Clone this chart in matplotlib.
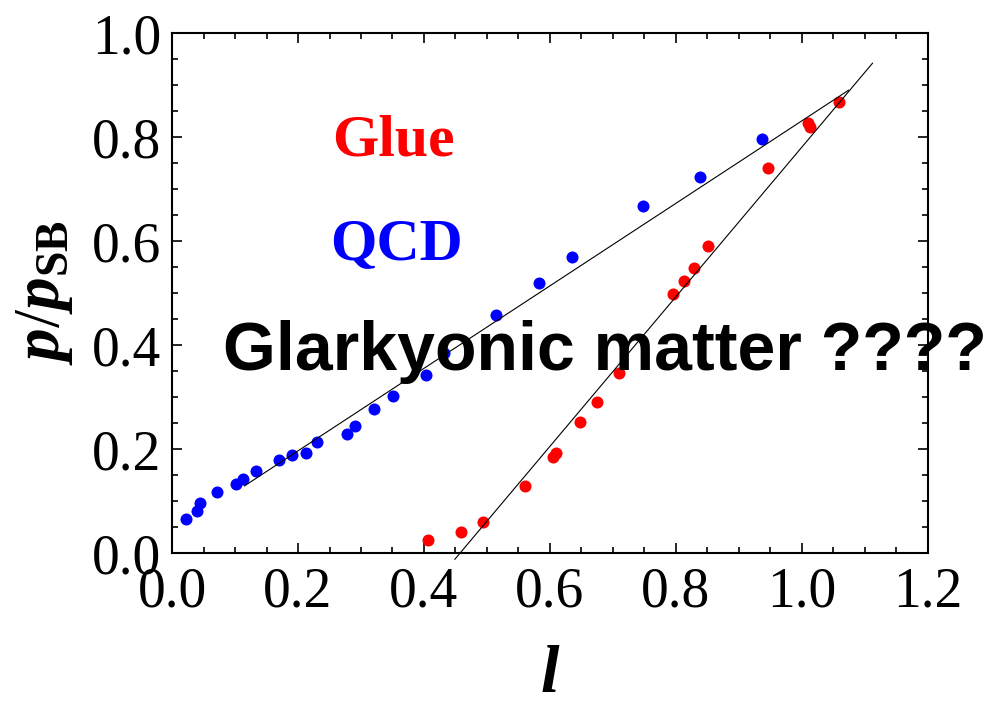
import matplotlib
matplotlib.use("Agg")
import matplotlib.pyplot as plt
from matplotlib.ticker import MultipleLocator

plt.rcParams['mathtext.fontset'] = 'custom'
plt.rcParams['mathtext.rm'] = 'Liberation Serif'
plt.rcParams['mathtext.it'] = 'Liberation Serif:italic:bold'
plt.rcParams['mathtext.bf'] = 'Liberation Serif:bold'

# QCD points (blue)
qcd_l = [0.022, 0.040, 0.044, 0.071, 0.101, 0.113, 0.134, 0.170, 0.191, 0.212, 0.230, 0.277,
         0.290, 0.321, 0.351, 0.403, 0.431, 0.514, 0.583, 0.635, 0.747, 0.838, 0.937]
qcd_p = [0.065, 0.081, 0.097, 0.117, 0.133, 0.142, 0.158, 0.178, 0.188, 0.193, 0.214, 0.229,
         0.245, 0.276, 0.301, 0.342, 0.384, 0.458, 0.519, 0.570, 0.668, 0.724, 0.796]

# Glue points (red)
glue_l = [0.407, 0.458, 0.493, 0.561, 0.604, 0.609, 0.648, 0.674, 0.709, 0.795, 0.812, 0.829,
          0.851, 0.946, 1.010, 1.013, 1.058]
glue_p = [0.025, 0.040, 0.060, 0.128, 0.184, 0.193, 0.251, 0.291, 0.347, 0.498, 0.524, 0.549,
          0.590, 0.740, 0.826, 0.819, 0.868]

# straight guide lines
qcd_line_l = [0.115, 1.074]
qcd_line_p = [0.129, 0.890]
glue_line_l = [0.449, 1.112]
glue_line_p = [-0.012, 0.942]

fig = plt.figure(figsize=(9.96, 7.07), dpi=100)
ax = fig.add_axes([0.1727, 0.2178, 0.759, 0.7355])

ax.scatter(qcd_l, qcd_p, s=75, color='#0000ff', linewidths=0, zorder=2)
ax.scatter(glue_l, glue_p, s=75, color='#ff0000', linewidths=0, zorder=2)
ax.plot(qcd_line_l, qcd_line_p, color='black', lw=0.8, zorder=3, clip_on=False)
ax.plot(glue_line_l, glue_line_p, color='black', lw=0.8, zorder=3, clip_on=False)

ax.set_xlim(0, 1.2)
ax.set_ylim(0, 1.0)
ax.xaxis.set_major_locator(MultipleLocator(0.2))
ax.xaxis.set_minor_locator(MultipleLocator(0.05))
ax.yaxis.set_major_locator(MultipleLocator(0.2))
ax.yaxis.set_minor_locator(MultipleLocator(0.05))
ax.xaxis.set_major_formatter(lambda v, p: f"{v:.1f}")
ax.yaxis.set_major_formatter(lambda v, p: f"{v:.1f}")

ax.tick_params(which='both', direction='in', top=True, right=True, width=1.2)
ax.tick_params(which='major', length=7)
ax.tick_params(which='minor', length=4.5)
ax.tick_params(axis='x', pad=10)
ax.tick_params(axis='y', pad=8)
for lab in ax.get_xticklabels() + ax.get_yticklabels():
    lab.set_fontfamily('Liberation Serif')
    lab.set_fontsize(40)
for sp in ax.spines.values():
    sp.set_linewidth(1.5)

ax.set_xlabel(r'$\mathit{l}$', fontsize=48, labelpad=15)
ax.set_ylabel(r'$\mathit{p/p}_{\mathbf{SB}}$', fontsize=47, labelpad=12)

ax.text(0.2535, 0.765, 'Glue', color='#ff0000', fontsize=43, fontweight='bold',
        family='Liberation Serif', ha='left', va='baseline')
ax.text(0.251, 0.565, 'QCD', color='#0000ff', fontsize=43, fontweight='bold',
        family='Liberation Serif', ha='left', va='baseline')
ax.text(0.081, 0.352, 'Glarkyonic matter ????', color='black', fontsize=49,
        fontweight='bold', family='Liberation Sans', ha='left', va='baseline',
        clip_on=False, zorder=4)

fig.savefig('out.png', dpi=100)
